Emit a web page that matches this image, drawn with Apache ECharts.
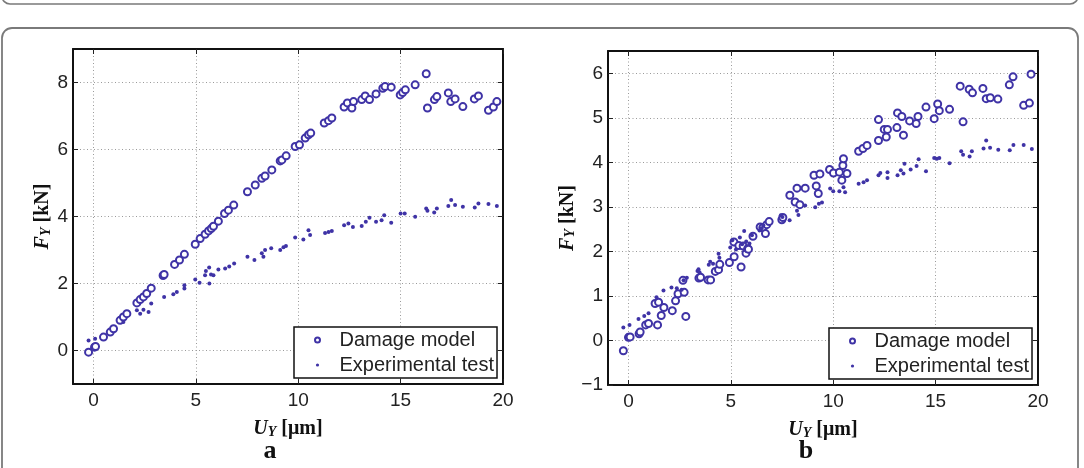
<!DOCTYPE html>
<html>
<head>
<meta charset="utf-8">
<script src="https://cdn.jsdelivr.net/npm/echarts/dist/echarts.min.js"></script>
<style>
html,body{margin:0;padding:0;background:#fff;}
#chart{width:1084px;height:468px;}
</style>
</head>
<body>
<div id="chart"></div>
<script>
// ---- Data ----
const xTicks = [0, 5, 10, 15, 20];
const yTicksA = [0, 2, 4, 6, 8];
const yTicksB = [-1, 0, 1, 2, 3, 4, 5, 6];

// Panel a: damage model [U_Y (µm), F_Y (kN)]
const damageA = [
  [-0.24,-0.05],[0.05,0.1],[0.1,0.12],[0.49,0.4],[0.82,0.55],[0.98,0.65],[1.3,0.9],[1.46,1.0],[1.63,1.1],
  [2.12,1.42],[2.28,1.52],[2.44,1.6],[2.6,1.7],[2.82,1.86],[3.4,2.24],[3.45,2.27],[3.96,2.57],[4.2,2.7],
  [4.44,2.87],[4.97,3.17],[5.21,3.34],[5.45,3.47],[5.62,3.57],[5.75,3.64],[5.86,3.71],[6.1,3.86],
  [6.4,4.09],[6.59,4.19],[6.85,4.34],[7.52,4.74],[7.9,4.94],[8.22,5.14],[8.38,5.21],[8.71,5.39],
  [9.12,5.66],[9.2,5.69],[9.41,5.81],[9.85,6.09],[10.06,6.14],[10.34,6.34],[10.5,6.44],[10.61,6.49],
  [11.27,6.79],[11.48,6.86],[11.64,6.94],[12.24,7.27],[12.4,7.39],[12.62,7.24],[12.7,7.43],[13.1,7.49],
  [13.27,7.6],[13.48,7.49],[13.8,7.66],[14.13,7.83],[14.24,7.88],[14.54,7.86],[14.98,7.63],[15.1,7.7],
  [15.23,7.78],[15.71,7.93],[16.25,8.26],[16.31,7.24],[16.65,7.49],[16.77,7.58],[17.33,7.69],[17.45,7.43],
  [17.66,7.51],[18.04,7.28],[18.6,7.51],[18.8,7.6],[19.29,7.17],[19.53,7.27],[19.7,7.43]
];
// Panel a: experimental test
const expA = [
  [-0.24,0.3],[0.08,0.35],[1.46,0.85],[2.12,1.2],[2.28,1.1],[2.44,1.22],[2.69,1.15],[2.82,1.4],
  [3.45,1.6],[3.9,1.68],[4.07,1.75],[4.44,1.95],[4.44,1.85],[4.97,2.12],[5.18,2.02],[5.45,2.25],
  [5.49,2.37],[5.65,2.48],[5.66,2.0],[5.74,2.27],[5.86,2.25],[6.1,2.42],[6.43,2.45],[6.63,2.51],
  [6.87,2.6],[7.52,2.8],[7.86,2.7],[8.22,2.9],[8.3,2.8],[8.38,3.0],[8.68,3.05],[9.12,3.0],[9.28,3.08],
  [9.4,3.12],[9.85,3.37],[10.25,3.31],[10.5,3.59],[10.58,3.45],[11.31,3.51],[11.48,3.54],[11.64,3.57],
  [12.24,3.74],[12.45,3.79],[12.67,3.69],[13.1,3.72],[13.3,3.84],[13.48,3.96],[13.8,3.84],[14.07,3.89],
  [14.2,4.04],[14.54,3.81],[15.0,4.09],[15.2,4.09],[15.71,3.99],[16.25,4.24],[16.31,4.17],[16.64,4.12],
  [16.77,4.24],[17.33,4.31],[17.47,4.49],[17.66,4.34],[18.04,4.29],[18.62,4.27],[18.8,4.39],[19.29,4.37],
  [19.7,4.31]
];
// Panel b: damage model
const damageB = [
  [-0.25,-0.23],[0.0,0.07],[0.08,0.08],[0.52,0.15],[0.57,0.19],[0.84,0.35],[0.98,0.38],[1.3,0.83],
  [1.42,0.35],[1.47,0.86],[1.6,0.56],[1.73,0.74],[2.14,0.67],[2.3,0.89],[2.42,1.05],[2.66,1.35],
  [2.72,1.08],[2.8,0.54],[3.44,1.4],[3.52,1.42],[3.89,1.36],[4.01,1.36],[4.24,1.55],[4.4,1.59],
  [4.46,1.71],[4.93,1.75],[5.15,2.21],[5.16,1.88],[5.39,2.13],[5.5,1.65],[5.6,2.12],[5.74,1.96],
  [5.82,2.06],[5.86,2.05],[6.08,2.34],[6.43,2.55],[6.56,2.53],[6.69,2.4],[6.75,2.6],[6.87,2.67],
  [7.49,2.71],[7.54,2.76],[7.88,3.26],[8.14,3.11],[8.23,3.42],[8.37,3.05],[8.63,3.42],[9.06,3.71],
  [9.17,3.47],[9.27,3.3],[9.35,3.74],[9.82,3.84],[10.01,3.76],[10.3,3.78],[10.42,3.6],[10.47,3.93],
  [10.5,4.08],[10.67,3.75],[11.24,4.25],[11.45,4.31],[11.65,4.38],[12.21,4.49],[12.21,4.96],[12.49,4.74],
  [12.59,4.57],[12.65,4.74],[13.11,4.78],[13.14,5.11],[13.35,5.03],[13.43,4.61],[13.73,4.93],[14.05,4.87],
  [14.14,5.03],[14.53,5.24],[14.93,4.98],[15.1,5.31],[15.18,5.16],[15.68,5.19],[16.2,5.71],[16.34,4.91],
  [16.64,5.64],[16.8,5.56],[17.31,5.66],[17.47,5.43],[17.67,5.45],[18.04,5.42],[18.6,5.74],[18.78,5.92],
  [19.3,5.28],[19.58,5.33],[19.66,5.98]
];
// Panel b: experimental test
const expB = [
  [-0.25,0.29],[0.05,0.35],[0.49,0.48],[0.77,0.55],[0.98,0.61],[1.37,0.97],[1.71,1.12],[2.1,1.19],
  [2.36,1.17],[2.6,1.14],[2.69,1.35],[2.85,1.41],[3.37,1.56],[3.42,1.6],[3.47,1.53],[3.92,1.7],
  [3.99,1.77],[4.13,1.72],[4.4,1.95],[4.44,1.86],[4.97,2.09],[5.07,2.25],[5.25,2.04],[5.44,2.31],
  [5.55,2.16],[5.65,2.46],[5.75,2.22],[5.91,2.18],[6.03,2.36],[6.4,2.47],[6.5,2.52],[6.59,2.58],
  [7.44,2.81],[7.52,2.77],[7.87,2.7],[8.23,2.91],[8.3,2.82],[8.63,3.03],[9.12,2.99],[9.3,3.07],
  [9.45,3.1],[9.85,3.41],[10.0,3.35],[10.3,3.35],[10.5,3.44],[10.58,3.33],[11.24,3.52],[11.48,3.55],
  [11.65,3.6],[12.21,3.71],[12.3,3.76],[12.65,3.78],[12.65,3.65],[13.14,3.71],[13.3,3.82],[13.43,3.75],
  [13.48,3.97],[13.78,3.84],[14.07,3.92],[14.17,4.07],[14.53,3.8],[14.93,4.1],[15.06,4.08],[15.18,4.1],
  [15.68,3.98],[16.25,4.25],[16.34,4.17],[16.66,4.13],[16.77,4.25],[17.34,4.31],[17.47,4.49],[17.66,4.33],
  [18.06,4.28],[18.62,4.27],[18.8,4.39],[19.3,4.39],[19.7,4.3]
];

// ---- Styling ----
const COLOR = '#3f33a6';
const SANS = '"Liberation Sans", Arial, Helvetica, sans-serif';
const SERIF = '"Liberation Serif", "Times New Roman", serif';
const AXIS_LINE = {show: true, onZero: false, lineStyle: {color: '#111', width: 2}};
const TICK = (vals) => ({show: true, inside: true, length: 5, customValues: vals, lineStyle: {color: '#222', width: 1}});
const SPLIT = {show: true, lineStyle: {color: '#9a9a9a', width: 1, type: [1, 2.5]}};
const nameRich = {
  i: {fontFamily: SERIF, fontStyle: 'italic', fontWeight: 'bold', fontSize: 20, lineHeight: 20, verticalAlign: 'top', color: '#111'},
  s: {fontFamily: SERIF, fontStyle: 'italic', fontWeight: 'bold', fontSize: 14, lineHeight: 14, padding: [10, 0, 0, 0], verticalAlign: 'bottom', color: '#111'},
  b: {fontFamily: SERIF, fontWeight: 'bold', fontSize: 20, lineHeight: 20, verticalAlign: 'top', color: '#111'}
};
const fmt = v => (v < 0 ? '\u2212' + Math.abs(v) : String(v));

function mainX(gi) {
  return {
    type: 'value', gridIndex: gi, position: 'bottom', min: -1, max: 20,
    axisLine: AXIS_LINE, axisTick: TICK(xTicks), splitLine: SPLIT,
    axisLabel: {customValues: xTicks, margin: 7, fontFamily: SANS, fontSize: 19, color: '#222', formatter: fmt},
    name: '{i|U}{s|Y}{b| [\u03bcm]}', nameLocation: 'middle', nameGap: 26,
    nameTextStyle: {rich: nameRich}
  };
}
function topX(gi) {
  return {
    type: 'value', gridIndex: gi, position: 'top', min: -1, max: 20,
    axisLine: AXIS_LINE, axisTick: TICK(xTicks), splitLine: {show: false},
    axisLabel: {show: false, customValues: xTicks}
  };
}
function mainY(gi, min, max, ticks) {
  return {
    type: 'value', gridIndex: gi, position: 'left', min: min, max: max,
    axisLine: AXIS_LINE, axisTick: TICK(ticks), splitLine: SPLIT,
    axisLabel: {customValues: ticks, margin: 5, fontFamily: SANS, fontSize: 19, color: '#222', formatter: fmt},
    name: '{i|F}{s|Y}{b| [kN]}', nameLocation: 'middle', nameRotate: 90, nameGap: 20,
    nameTextStyle: {rich: nameRich}
  };
}
function rightY(gi, min, max, ticks) {
  return {
    type: 'value', gridIndex: gi, position: 'right', min: min, max: max,
    axisLine: AXIS_LINE, axisTick: TICK(ticks), splitLine: {show: false},
    axisLabel: {show: false, customValues: ticks}
  };
}

const dotIcon = 'path://M0,0L0,0M10,10L10,10M1.8,5A3.2,3.2,0,1,0,8.2,5A3.2,3.2,0,1,0,1.8,5Z';
function legendAt(left, top) {
  return {
    left: left, top: top, orient: 'vertical', selectedMode: false,
    backgroundColor: '#fff', borderColor: '#111', borderWidth: 1.5, borderRadius: 0,
    padding: [3, 3, 3, 20], itemGap: 5, itemWidth: 34, itemHeight: 5,
    textStyle: {fontFamily: SANS, fontSize: 20, color: '#222', padding: [0, 0, 0, 0]},
    data: [
      {name: 'Damage model', icon: 'emptyCircle', itemStyle: {color: COLOR, borderColor: COLOR, borderWidth: 0.9}},
      {name: 'Experimental test', icon: dotIcon, itemStyle: {color: COLOR, borderWidth: 0}}
    ]
  };
}

function damageSeries(xi, yi, data) {
  return {
    name: 'Damage model', type: 'scatter', xAxisIndex: xi, yAxisIndex: yi, data: data,
    symbol: 'emptyCircle', symbolSize: 7,
    itemStyle: {color: COLOR, borderColor: COLOR, borderWidth: 1, opacity: 1},
    emphasis: {disabled: true}, z: 3
  };
}
function expSeries(xi, yi, data) {
  return {
    name: 'Experimental test', type: 'scatter', xAxisIndex: xi, yAxisIndex: yi, data: data,
    symbol: 'circle', symbolSize: 4,
    itemStyle: {color: COLOR, opacity: 1},
    emphasis: {disabled: true}, z: 4
  };
}

const option = {
  animation: false,
  backgroundColor: '#fff',
  grid: [
    {left: 73, top: 49, width: 430, height: 335, outerBoundsMode: 'none', containLabel: false},
    {left: 608, top: 51, width: 430, height: 334, outerBoundsMode: 'none', containLabel: false}
  ],
  xAxis: [mainX(0), topX(0), mainX(1), topX(1)],
  yAxis: [mainY(0, -1, 9, yTicksA), rightY(0, -1, 9, yTicksA), mainY(1, -1, 6.5, yTicksB), rightY(1, -1, 6.5, yTicksB)],
  legend: [legendAt(294, 327), legendAt(829, 328)],
  series: [
    damageSeries(0, 0, damageA), expSeries(0, 0, expA),
    damageSeries(2, 2, damageB), expSeries(2, 2, expB)
  ],
  graphic: [
    {type: 'rect', silent: true, z: -10, shape: {x: 2, y: -30, width: 1076, height: 34, r: 8},
     style: {fill: 'none', stroke: '#7a7a7a', lineWidth: 1.6}},
    {type: 'rect', silent: true, z: -10, shape: {x: 2, y: 28, width: 1076, height: 470, r: 10},
     style: {fill: 'none', stroke: '#7a7a7a', lineWidth: 1.8}},
    {type: 'text', silent: true, x: 270, y: 451,
     style: {text: 'a', fill: '#111', font: 'bold 26px "Liberation Serif", serif', align: 'center', verticalAlign: 'middle'}},
    {type: 'text', silent: true, x: 806, y: 451,
     style: {text: 'b', fill: '#111', font: 'bold 26px "Liberation Serif", serif', align: 'center', verticalAlign: 'middle'}}
  ]
};

const chart = echarts.init(document.getElementById('chart'), null, {renderer: 'canvas'});
chart.setOption(option);
</script>
</body>
</html>
